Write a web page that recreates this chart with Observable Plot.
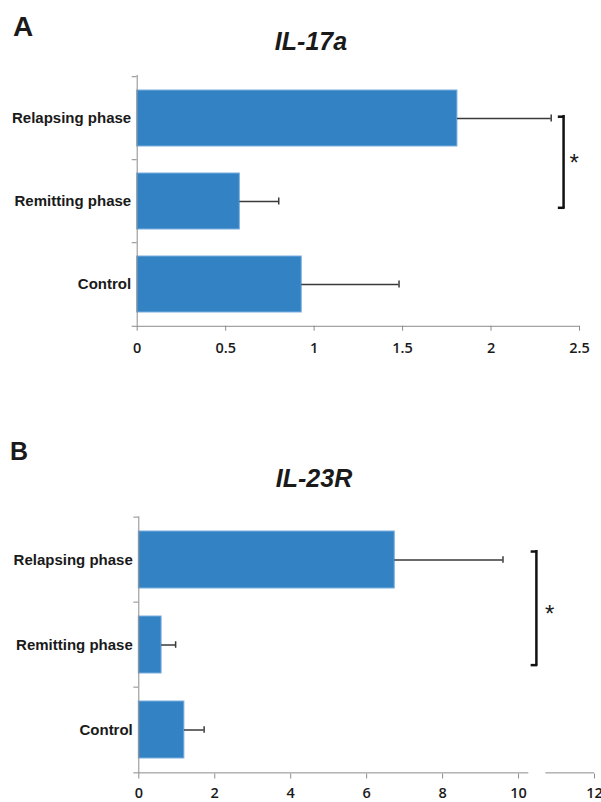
<!DOCTYPE html>
<html><head><meta charset="utf-8">
<script src="https://cdn.jsdelivr.net/npm/d3@7"></script>
<script src="https://cdn.jsdelivr.net/npm/@observablehq/plot@0.6"></script>
<style>
body{margin:0;background:#fff;}
#wrap{position:relative;width:601px;height:802px;overflow:hidden;font-family:"Liberation Sans",Arial,sans-serif;}
.lab{position:absolute;line-height:1;white-space:nowrap;color:#1a1a1a;font-weight:bold;}
.panel{position:absolute;left:0;}
.panel svg{color:#1a1a1a;}
.panel g[aria-label^="x-axis"] text{font-family:"Open Sans",sans-serif;font-weight:600;font-size:14.5px;fill:#1a1a1a;}
.panel g[aria-label^="y-axis"] text{font-family:"Liberation Sans",Arial,sans-serif;font-weight:bold;font-size:15px;fill:#1a1a1a;}
.panel g[aria-label="x-axis tick"], .panel g[aria-label="x-axis"] line, .panel g[aria-label="x-axis"] path{stroke:#8c8c8c;}
</style></head><body>
<div id="wrap">
  <div class="lab" style="left:13px;top:13px;font-size:28px">A</div>
  <div class="lab" style="left:311px;top:29px;font-size:25px;font-style:italic;transform:translateX(-50%)">IL-17a</div>
  <div class="panel" id="pa" style="top:60px"></div>
  <div class="lab" style="left:10px;top:439px;font-size:25px">B</div>
  <div class="lab" style="left:314px;top:466px;font-size:25px;font-style:italic;transform:translateX(-50%)">IL-23R</div>
  <div class="panel" id="pb" style="top:496px"></div>
</div>
<script>
// ---- data ----
const categories = ["Relapsing phase", "Remitting phase", "Control"];
const il17aMean = [1.81, 0.58, 0.93];
const il17aErr = [0.53, 0.22, 0.55];
const il23rMean = [6.74, 0.60, 1.20];
const il23rErr = [2.85, 0.37, 0.52];
const ticksA = [0, 0.5, 1, 1.5, 2, 2.5];
const ticksB = [0, 2, 4, 6, 8, 10, 12];
const axisSegmentsA = [[0, 2.5]];
const axisSegmentsB = [[0, 10.27], [10.72, 12]];
const significance = [{from: "Relapsing phase", to: "Remitting phase", label: "*"}];

const barBlue = "#3282c4", barEdge = "#7aaedf", errColor = "#3a3a3a", axisGray = "#8c8c8c";

function panel(o) {
  const data = categories.map((c, i) => ({cat: c, mean: o.means[i], err: o.errs[i]}));
  const p = 0.33;
  const step = (o.height - o.mt - o.mb) / categories.length;
  const bw = step * (1 - p);
  return Plot.plot({
    width: 601, height: o.height,
    marginTop: o.mt, marginBottom: o.mb, marginLeft: o.ml, marginRight: o.mr,
    style: {background: "transparent", overflow: "visible"},
    x: {domain: [0, o.max], ticks: o.ticks, tickSize: 5, tickPadding: o.tp, tickFormat: d => String(d), label: null},
    y: {domain: categories, paddingInner: p, paddingOuter: p / 2, align: 0.5, tickSize: 0, tickPadding: 6, label: null},
    marks: [
      Plot.barX(data, {x: "mean", y: "cat", fill: barBlue, stroke: barEdge, strokeWidth: 1}),
      Plot.ruleY(data, {y: "cat", x1: "mean", x2: d => d.mean + d.err, stroke: errColor, strokeWidth: 1.5}),
      Plot.tickX(data, {x: d => d.mean + d.err, y: "cat", stroke: errColor, strokeWidth: 1.5, insetTop: (bw - 7) / 2, insetBottom: (bw - 7) / 2}),
      Plot.ruleX([0], {stroke: axisGray, strokeWidth: 1}),
      Plot.ruleY(categories, {y: d => d, x1: 0, x2: 0, dy: -step / 2, insetLeft: -5, stroke: axisGray}),
      Plot.ruleY(o.segments.slice(0, 1), {y: () => categories[categories.length - 1], x1: d => d[0], x2: d => d[1], dy: step / 2, insetLeft: -5, stroke: axisGray}),
      Plot.ruleY(o.segments.slice(1), {y: () => categories[categories.length - 1], x1: d => d[0], x2: d => d[1], dy: step / 2, stroke: axisGray}),
      Plot.ruleX(significance, {x: () => o.bx, y1: "from", y2: "to", insetTop: o.bTop, insetBottom: o.bBottom, stroke: "#111", strokeWidth: 2.5, strokeLinecap: "square"}),
      Plot.ruleY(significance, {y: "from", x1: () => o.bx, x2: () => o.bx, insetLeft: -4, dy: o.bTop - bw / 2, stroke: "#111", strokeWidth: 2.5, strokeLinecap: "square"}),
      Plot.ruleY(significance, {y: "to", x1: () => o.bx, x2: () => o.bx, insetLeft: -4, dy: bw / 2 - o.bBottom, stroke: "#111", strokeWidth: 2.5, strokeLinecap: "square"}),
      Plot.text(significance, {x: () => o.bx, y: "from", text: "label", dx: o.sdx, dy: o.sdy, fontSize: 24, fontFamily: "Liberation Sans", fill: "#1a1a1a"})
    ]
  });
}

document.getElementById("pa").append(panel({
  means: il17aMean, errs: il17aErr, max: 2.5, ticks: ticksA, segments: axisSegmentsA,
  height: 300, mt: 15, mb: 34.3, ml: 136.7, mr: 22, tp: 12,
  bx: 2.41, bTop: 26.2, bBottom: 21.7, sdx: 10.7, sdy: 45
}));
document.getElementById("pb").append(panel({
  means: il23rMean, errs: il23rErr, max: 12, ticks: ticksB, segments: axisSegmentsB,
  height: 306, mt: 20.3, mb: 28.5, ml: 138.3, mr: 7, tp: 9,
  bx: 10.47, bTop: 20.25, bBottom: 8.6, sdx: 13.3, sdy: 54
}));
</script>
</body></html>
